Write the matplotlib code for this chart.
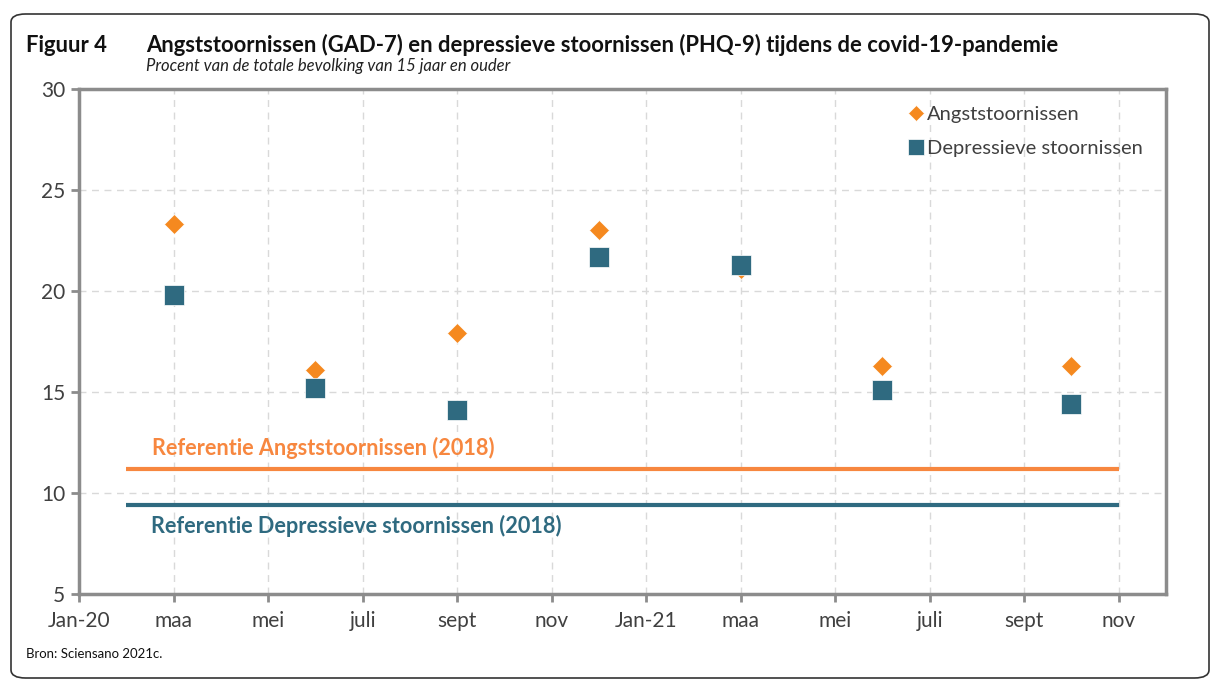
import matplotlib
matplotlib.use("Agg")
import matplotlib.pyplot as plt
from matplotlib.patches import FancyBboxPatch

plt.rcParams['font.family'] = ['Lato', 'DejaVu Sans']

# Months counted from January 2020 (0 = Jan-20)
tick_pos = [0, 2, 4, 6, 8, 10, 12, 14, 16, 18, 20, 22]
tick_labels = ["Jan-20", "maa", "mei", "juli", "sept", "nov",
               "Jan-21", "maa", "mei", "juli", "sept", "nov"]

survey_months = [2, 5, 8, 11, 14, 17, 21]
angst = [23.3, 16.1, 17.9, 23.0, 21.1, 16.3, 16.3]
depressie = [19.8, 15.2, 14.1, 21.7, 21.3, 15.1, 14.4]

ref_span = [1, 22]
ref_angst = 11.2
ref_depressie = 9.4

ORANGE = "#F5891F"
ORANGE_LINE = "#F7873F"
BLUE = "#2F6A80"
GREY = "#8C8C8C"
TEXT = "#404040"

fig = plt.figure(figsize=(12.15, 6.8), dpi=100)

# rounded outer frame
frame = FancyBboxPatch((11 / 1215, 2 / 680), 1198 / 1215, 664 / 680,
                       boxstyle="round,pad=0,rounding_size=0.012",
                       transform=fig.transFigure, fill=False,
                       edgecolor="#333333", linewidth=1.2)
fig.patches.append(frame)

ax = fig.add_axes([79 / 1215, 1 - 594 / 680, (1166 - 79) / 1215, (594 - 89) / 680])

ax.plot(ref_span, [ref_angst] * 2, color=ORANGE_LINE, lw=3, solid_capstyle="butt", zorder=2)
ax.plot(ref_span, [ref_depressie] * 2, color=BLUE, lw=3, solid_capstyle="butt", zorder=2)

ax.plot(survey_months, angst, ls="none", marker="D", ms=10.5, color=ORANGE,
        mec="white", mew=0.5, zorder=3, label="Angststoornissen")
ax.plot(survey_months, depressie, ls="none", marker="s", ms=14, color=BLUE,
        mec="white", mew=0.5, zorder=4, label="Depressieve stoornissen")

ax.text(1.55, ref_angst + 0.5, "Referentie Angststoornissen (2018)", color=ORANGE_LINE,
        fontsize=15.6, fontweight="bold", va="bottom", ha="left")
ax.text(1.52, ref_depressie - 0.5, "Referentie Depressieve stoornissen (2018)", color=BLUE,
        fontsize=15.6, fontweight="bold", va="top", ha="left")

ax.set_xlim(0, 23)
ax.set_ylim(5, 30)
ax.set_xticks(tick_pos)
ax.set_xticklabels(tick_labels)
ax.set_yticks([5, 10, 15, 20, 25, 30])
ax.tick_params(axis="both", colors=GREY, labelcolor=TEXT, labelsize=15,
               length=6, width=2, direction="out")
ax.tick_params(axis="x", pad=6)
ax.tick_params(axis="y", pad=4)

ax.grid(True, color="#D9D9D9", linestyle=(0, (5, 4)), linewidth=1)
ax.set_axisbelow(True)
for s in ax.spines.values():
    s.set_color(GREY)
    s.set_linewidth(2.5)

leg = ax.legend(loc="upper right", bbox_to_anchor=(0.99, 0.99), frameon=False,
                fontsize=14.5, handletextpad=0.0, handlelength=1.1,
                labelspacing=0.85, markerscale=0.8, borderaxespad=0.2)
for t in leg.get_texts():
    t.set_color(TEXT)

fig.text(26 / 1215, 1 - 45 / 680, "Figuur 4", fontsize=15.8, fontweight="bold",
         color="#111111", va="center", ha="left")
fig.text(146 / 1215, 1 - 45 / 680,
         "Angststoornissen (GAD-7) en depressieve stoornissen (PHQ-9) tijdens de covid-19-pandemie",
         fontsize=15.8, fontweight="bold", color="#111111", va="center", ha="left")
fig.text(146 / 1215, 1 - 66 / 680, "Procent van de totale bevolking van 15 jaar en ouder",
         fontsize=12, style="italic", color="#222222", va="center", ha="left")
fig.text(26 / 1215, 1 - 654 / 680, "Bron: Sciensano 2021c.", fontsize=9.5,
         color="#111111", va="center", ha="left")

fig.savefig("out.png", dpi=100)
